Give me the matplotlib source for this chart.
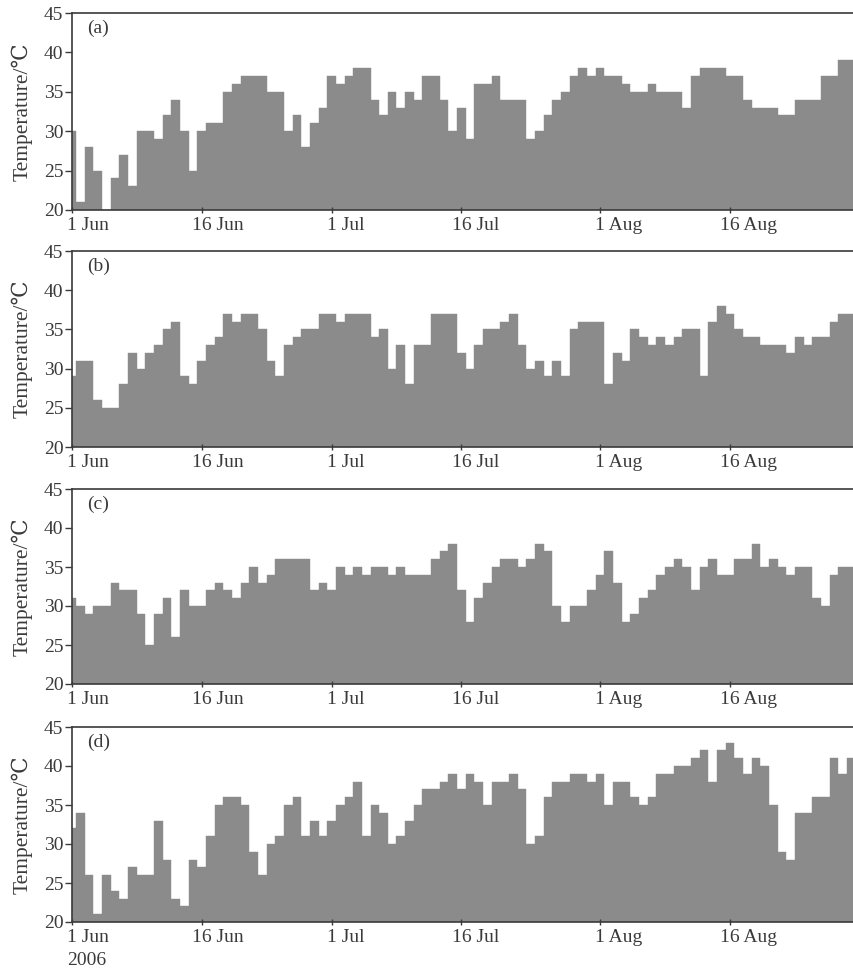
import pandas as pd
import matplotlib
matplotlib.use('Agg')
import matplotlib.pyplot as plt
import matplotlib.transforms as mtransforms

# Fuente tipo Times
plt.rcParams['font.family'] = ['Liberation Serif', 'DejaVu Serif']

# Dias de la serie (1 Jun - 31 Ago 2006)
dias = pd.date_range('2006-06-01', periods=92, freq='D')

# Temperaturas diarias de cada panel
temp_a = [30, 21, 28, 25, 20, 24, 27, 23, 30, 30,
          29, 32, 34, 30, 25, 30, 31, 31, 35, 36,
          37, 37, 37, 35, 35, 30, 32, 28, 31, 33,
          37, 36, 37, 38, 38, 34, 32, 35, 33, 35,
          34, 37, 37, 34, 30, 33, 29, 36, 36, 37,
          34, 34, 34, 29, 30, 32, 34, 35, 37, 38,
          37, 38, 37, 37, 36, 35, 35, 36, 35, 35,
          35, 33, 37, 38, 38, 38, 37, 37, 34, 33,
          33, 33, 32, 32, 34, 34, 34, 37, 37, 39,
          39, 35]
temp_b = [29, 31, 31, 26, 25, 25, 28, 32, 30, 32,
          33, 35, 36, 29, 28, 31, 33, 34, 37, 36,
          37, 37, 35, 31, 29, 33, 34, 35, 35, 37,
          37, 36, 37, 37, 37, 34, 35, 30, 33, 28,
          33, 33, 37, 37, 37, 32, 30, 33, 35, 35,
          36, 37, 33, 30, 31, 29, 31, 29, 35, 36,
          36, 36, 28, 32, 31, 35, 34, 33, 34, 33,
          34, 35, 35, 29, 36, 38, 37, 35, 34, 34,
          33, 33, 33, 32, 34, 33, 34, 34, 36, 37,
          37, 37]
temp_c = [31, 30, 29, 30, 30, 33, 32, 32, 29, 25,
          29, 31, 26, 32, 30, 30, 32, 33, 32, 31,
          33, 35, 33, 34, 36, 36, 36, 36, 32, 33,
          32, 35, 34, 35, 34, 35, 35, 34, 35, 34,
          34, 34, 36, 37, 38, 32, 28, 31, 33, 35,
          36, 36, 35, 36, 38, 37, 30, 28, 30, 30,
          32, 34, 37, 33, 28, 29, 31, 32, 34, 35,
          36, 35, 32, 35, 36, 34, 34, 36, 36, 38,
          35, 36, 35, 34, 35, 35, 31, 30, 34, 35,
          35, 35]
temp_d = [32, 34, 26, 21, 26, 24, 23, 27, 26, 26,
          33, 28, 23, 22, 28, 27, 31, 35, 36, 36,
          35, 29, 26, 30, 31, 35, 36, 31, 33, 31,
          33, 35, 36, 38, 31, 35, 34, 30, 31, 33,
          35, 37, 37, 38, 39, 37, 39, 38, 35, 38,
          38, 39, 37, 30, 31, 36, 38, 38, 39, 39,
          38, 39, 35, 38, 38, 36, 35, 36, 39, 39,
          40, 40, 41, 42, 38, 42, 43, 41, 39, 41,
          40, 35, 29, 28, 34, 34, 36, 36, 41, 39,
          41, 41]

series = [temp_a, temp_b, temp_c, temp_d]
paneles = ['(a)', '(b)', '(c)', '(d)']

marcas = pd.to_datetime(['2006-06-01', '2006-06-16', '2006-07-01',
                         '2006-07-16', '2006-08-01', '2006-08-16'])
etiquetas = ['1 Jun', '16 Jun', '1 Jul', '16 Jul', '1 Aug', '16 Aug']
marcas_y = [20, 25, 30, 35, 40, 45]

gris = '#8b8b8b'
oscuro = '#3a3a3a'

fig = plt.figure(figsize=(8.54, 9.73), dpi=100)

# posiciones (bordes superior e inferior en pixeles)
arriba = [13, 251, 489, 727]
abajo = [210, 447, 684, 922]
izq = 71.7 / 854
ancho = (868.5 - 71.7) / 854

for k in range(4):
    ax = fig.add_axes([izq, 1 - abajo[k] / 973, ancho, (abajo[k] - arriba[k]) / 973])
    ax.bar(dias, series[k], width=1.0, color=gris, edgecolor=gris, linewidth=0.3)
    ax.set_ylim(20, 45)
    ax.set_xlim(pd.Timestamp('2006-06-01'), pd.Timestamp('2006-09-01'))
    ax.set_yticks(marcas_y)
    ax.set_xticks(marcas)
    ax.set_xticklabels([])
    ax.tick_params(axis='y', direction='out', length=5, width=1, colors=oscuro,
                   labelsize=14, pad=1)
    ax.tick_params(axis='x', direction='inout', length=4, width=1, colors=oscuro)
    for lado in ['left', 'top', 'bottom', 'right']:
        ax.spines[lado].set_color(oscuro)
        ax.spines[lado].set_linewidth(1.2)
    ax.set_ylabel('Temperature/℃', fontsize=15.5, color=oscuro, labelpad=8)

    # etiquetas de fecha: el numero centrado en la marca
    for m, et in zip(marcas, etiquetas):
        num = et.split(' ')[0]
        desp = mtransforms.ScaledTranslation(-len(num) * 3.5 / 72, -5 / 72, fig.dpi_scale_trans)
        tr = mtransforms.blended_transform_factory(ax.transData, ax.transAxes) + desp
        texto = et
        if k == 3 and et == '1 Jun':
            texto = '1 Jun\n2006'
        ax.text(m, 0, texto, transform=tr, ha='left', va='top', fontsize=14,
                color=oscuro, linespacing=1.45)

    ax.annotate(paneles[k], xy=(0, 1), xycoords='axes fraction', xytext=(15, -7),
                textcoords='offset pixels', ha='left', va='top', fontsize=14,
                color=oscuro)

fig.savefig('out.png', dpi=100)
